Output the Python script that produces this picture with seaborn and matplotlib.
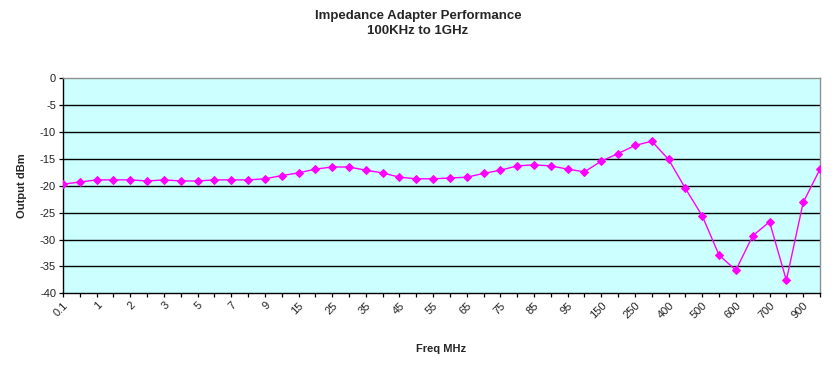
import matplotlib
matplotlib.use("Agg")
import matplotlib.pyplot as plt
import seaborn as sns
import pandas as pd
import numpy as np

freq_labels = ["0.1", "0.5", "1", "1.5", "2", "2.5", "3", "4", "5", "6", "7", "8", "9", "10",
               "15", "20", "25", "30", "35", "40", "45", "50", "55", "60", "65", "70", "75", "80",
               "85", "90", "95", "100", "150", "200", "250", "300", "400", "450", "500", "550",
               "600", "650", "700", "800", "900", "1000"]
output_dbm = [-19.7, -19.3, -18.9, -18.9, -18.9, -19.1, -18.9, -19.1, -19.1, -18.9, -18.9, -18.9,
              -18.7, -18.1, -17.6, -16.9, -16.5, -16.5, -17.1, -17.6, -18.4, -18.7, -18.7, -18.55,
              -18.4, -17.7, -17.1, -16.3, -16.1, -16.3, -16.9, -17.4, -15.4, -14.0, -12.5, -11.7,
              -15.1, -20.5, -25.6, -32.9, -35.7, -29.3, -26.7, -37.6, -23.1, -16.9]
y_ticks = [0, -5, -10, -15, -20, -25, -30, -35, -40]

df = pd.DataFrame({"freq": freq_labels, "out": output_dbm})
df["pos"] = np.arange(len(df))

sns.set_theme(style="white")
plt.rcParams["font.family"] = ["Liberation Sans", "DejaVu Sans"]

fig = plt.figure(figsize=(8.36, 3.69), dpi=100)
ax = fig.add_axes([63 / 836, 1 - 293.3 / 369, (820 - 63) / 836, (293.3 - 78.3) / 369])
ax.set_facecolor("#CCFFFF")

for v in y_ticks[1:-1]:
    ax.axhline(v, color="black", lw=1.0, zorder=1)

sns.lineplot(data=df, x="pos", y="out", ax=ax, color="#FF00FF", lw=1.0,
             marker="D", markersize=4.3, markeredgecolor="#FF00FF", zorder=3)

ax.set_xlim(0, len(df) - 1)
ax.set_ylim(-40, 0)
ax.set_yticks(y_ticks)
ax.set_yticklabels([str(v) for v in y_ticks], fontsize=8, color="#222222")
ax.set_xticks(df["pos"])
ax.set_xticklabels([l if i % 2 == 0 else "" for i, l in enumerate(freq_labels)],
                   rotation=45, ha="right", rotation_mode="anchor", fontsize=8, color="#222222")
ax.tick_params(axis="both", direction="out", length=3, width=0.9, color="black",
               bottom=True, left=True, pad=2)
ax.spines["left"].set_color("black")
ax.spines["bottom"].set_color("black")
ax.spines["top"].set_color("#909090")
ax.spines["right"].set_color("#909090")
for s in ax.spines.values():
    s.set_linewidth(1.0)

ax.set_xlabel("Freq MHz", fontsize=8, fontweight="bold", labelpad=17)
ax.set_ylabel("Output dBm", fontsize=8, fontweight="bold", labelpad=9)
fig.text(0.5, 0.972, "Impedance Adapter Performance\n100KHz to 1GHz", ha="center", va="top",
         fontsize=9.5, fontweight="bold", linespacing=1.25)

fig.savefig("out.png", dpi=100, facecolor="white")
